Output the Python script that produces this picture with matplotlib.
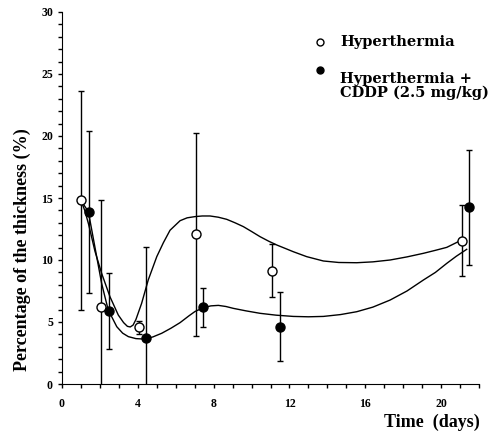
import numpy as np
import matplotlib
matplotlib.use('Agg')
import matplotlib.pyplot as plt
from matplotlib.ticker import MultipleLocator

# measured points (mean, SD)
hyp_x = [1.0, 2.05, 4.05, 7.05, 11.07, 21.08]
hyp_y = [14.8, 6.2, 4.57, 12.07, 9.14, 11.56]
hyp_err = [8.85, 8.6, 0.55, 8.2, 2.15, 2.85]

cddp_x = [1.4, 2.46, 4.44, 7.44, 11.48, 21.49]
cddp_y = [13.87, 5.89, 3.68, 6.18, 4.62, 14.25]
cddp_err = [6.5, 3.05, 7.4, 1.55, 2.8, 4.66]

# fitted curves
hyp_fit_x = [1.0, 1.2, 1.4, 1.74, 2.09, 2.53, 2.97, 3.25, 3.45, 3.6, 3.75, 3.9,
             4.2, 4.55, 5.0, 5.35, 5.7, 6.23, 6.6, 7.02, 7.4, 7.81, 8.25, 8.69,
             9.13, 9.57, 10.0, 10.45, 10.9, 11.33, 11.8, 12.2, 12.91, 13.79,
             14.6, 15.55, 16.4, 17.31, 18.2, 19.07, 19.7, 20.3, 20.91]
hyp_fit_y = [14.8, 14.0, 12.9, 10.7, 8.93, 7.04, 5.56, 4.95, 4.65, 4.6, 4.75, 5.2,
             6.5, 8.39, 10.27, 11.4, 12.4, 13.17, 13.4, 13.5, 13.55, 13.55, 13.45, 13.28,
             13.0, 12.69, 12.3, 11.88, 11.52, 11.21, 10.92, 10.67, 10.27, 9.92,
             9.8, 9.78, 9.85, 10.0, 10.25, 10.54, 10.78, 11.02, 11.48]

cddp_fit_x = [1.0, 1.39, 1.83, 2.09, 2.27, 2.44, 2.89, 3.2, 3.5, 3.9, 4.38, 4.8,
              5.26, 5.75, 6.23, 6.7, 7.02, 7.46, 7.85, 8.25, 8.65, 9.04, 9.7, 10.45,
              11.3, 12.2, 13.0, 13.79, 14.7, 15.55, 16.4, 17.31, 18.2, 19.07, 19.7,
              20.3, 20.8, 21.35]
cddp_fit_y = [14.8, 13.9, 10.27, 8.12, 7.0, 5.97, 4.62, 4.1, 3.82, 3.66, 3.62, 3.8,
              4.09, 4.5, 4.95, 5.5, 5.85, 6.15, 6.3, 6.34, 6.25, 6.1, 5.9, 5.7,
              5.55, 5.45, 5.42, 5.45, 5.6, 5.83, 6.2, 6.77, 7.5, 8.39, 9.0,
              9.73, 10.3, 10.86]

plt.rcParams['font.family'] = ['Liberation Serif', 'DejaVu Serif']
plt.rcParams['font.weight'] = 'bold'

fig = plt.figure(figsize=(5.02, 4.36), dpi=100)
ax = fig.add_axes([62 / 502, 52 / 436, 417 / 502, 372 / 436])

ax.plot(hyp_fit_x, hyp_fit_y, color='black', lw=1.0, zorder=2)
ax.plot(cddp_fit_x, cddp_fit_y, color='black', lw=1.0, zorder=2)

ax.errorbar(hyp_x, hyp_y, yerr=hyp_err, fmt='o', color='black', mfc='white',
            mec='black', mew=1.0, ms=6.5, elinewidth=1.0, capsize=2.5,
            capthick=1.0, zorder=3)
ax.errorbar(cddp_x, cddp_y, yerr=cddp_err, fmt='o', color='black', mfc='black',
            mec='black', ms=6.5, elinewidth=1.0, capsize=2.5, capthick=1.0,
            zorder=3)

ax.set_xlim(0, 22)
ax.set_ylim(0, 30)
ax.spines['top'].set_visible(False)
ax.spines['right'].set_visible(False)
ax.xaxis.set_major_locator(MultipleLocator(4))
ax.xaxis.set_minor_locator(MultipleLocator(1))
ax.yaxis.set_major_locator(MultipleLocator(5))
ax.yaxis.set_minor_locator(MultipleLocator(1))
ax.set_xticks([0, 4, 8, 12, 16, 20])
ax.tick_params(which='both', direction='out', length=3, width=1.0,
               labelsize=8.5)
ax.tick_params(axis='x', pad=7)
for lab in ax.get_xticklabels() + ax.get_yticklabels():
    lab.set_fontweight('bold')

fig.text(22 / 502, 1 - 250 / 436, 'Percentage of the thickness (%)',
         rotation=90, ha='center', va='center', fontsize=13, fontweight='bold')
fig.text(480 / 502, 1 - 422 / 436, 'Time  (days)', ha='right', va='center',
         fontsize=13, fontweight='bold')

# legend drawn by hand to match the layout
ax.plot([0.619], [0.919], 'o', transform=ax.transAxes, ms=5, mfc='white',
        mec='black', mew=1.0, clip_on=False)
ax.plot([0.619], [0.844], 'o', transform=ax.transAxes, ms=5, mfc='black',
        mec='black', clip_on=False)
ax.text(0.667, 0.919, 'Hyperthermia', transform=ax.transAxes, fontsize=10.5,
        fontweight='bold', va='center', family=['DejaVu Serif'])
ax.text(0.667, 0.801, 'Hyperthermia +\nCDDP (2.5 mg/kg)', transform=ax.transAxes,
        fontsize=10.5, fontweight='bold', va='center', linespacing=0.95,
        family=['DejaVu Serif'])

fig.savefig('out.png', dpi=100)
